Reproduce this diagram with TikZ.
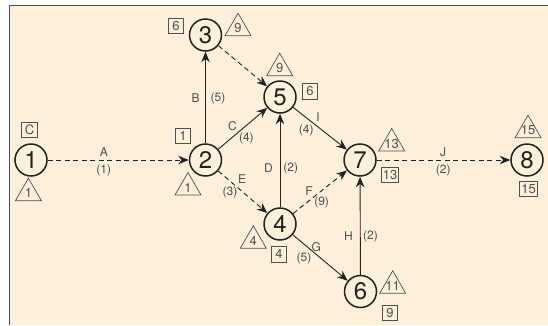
\documentclass[tikz,border=0pt]{standalone}
\usepackage{fontspec}
\setmainfont{TeX Gyre Heros}
\usetikzlibrary{arrows.meta}
\definecolor{paper}{HTML}{FEF0DA}
\definecolor{ink}{HTML}{222222}
\definecolor{soft}{HTML}{505050}
\tikzset{
  event/.style={circle, draw=ink, line width=1.5pt, minimum size=32pt, inner sep=0pt,
    font=\fontsize{24}{24}\selectfont, text=ink},
  act/.style={draw=ink, line width=0.9pt, -{Stealth[length=10.5pt,width=8.5pt]}},
  actdash/.style={act, dash pattern=on 5pt off 3.5pt},
  lbl/.style={font=\fontsize{12}{12}\selectfont, text=soft, inner sep=0pt},
  tag/.style={draw=soft, line width=0.7pt, minimum height=15.5pt, minimum width=15.5pt,
    inner sep=1.5pt, font=\fontsize{13}{13}\selectfont, text=soft},
  pics/tri/.style={code={
    \draw[soft, line width=0.7pt] (-13,0) -- (0,-22.5) -- (13,0) -- cycle;
    \node[lbl, font=\fontsize{13}{13}\selectfont] at (0,-7.5) {#1};
  }}
}
\begin{document}
\begin{tikzpicture}[x=1pt, y=-1pt]
\useasboundingbox (0,0) rectangle (548,325);
% sheet with its left and top rules
\fill[white] (0,0) rectangle (548,325);
\fill[paper] (9.7,5.7) rectangle (548,325);
\draw[ink!80, line width=1.3pt] (9.7,325) -- (9.7,5.7) -- (548,5.7);

% events
\node[event] (n1) at (31,160) {1};
\node[event] (n2) at (205.5,160) {2};
\node[event] (n3) at (205.5,35) {3};
\node[event] (n5) at (280,97) {5};
\node[event] (n4) at (280,224) {4};
\node[event] (n7) at (360,160) {7};
\node[event] (n6) at (360.5,291.5) {6};
\node[event] (n8) at (527,160) {8};

% activities
\draw[actdash] (n1) -- (n2);
\draw[act] (n2) -- (n3);
\draw[act] (n2) -- (n5);
\draw[actdash] (n2) -- (n4);
\draw[actdash] (n3) -- (n5);
\draw[act] (n4) -- (n5);
\draw[act] (n5) -- (n7);
\draw[actdash] (n4) -- (n7);
\draw[act] (n4) -- (n6);
\draw[act] (n6) -- (n7);
\draw[actdash] (n7) -- (n8);

% activity names and durations
\node[lbl] (lA) at (103.8,152) {A};   \node[lbl] (dA) at (103.8,170) {(1)};
\node[lbl] (lB) at (195.7,98) {B};    \node[lbl] (dB) at (218,98) {(5)};
\node[lbl] (lC) at (232.4,126) {C};   \node[lbl] (dC) at (246.4,138) {(4)};
\node[lbl] (lE) at (242.2,179) {E};   \node[lbl] (dE) at (230,192) {(3)};
\node[lbl] (lD) at (268.4,168) {D};   \node[lbl] (dD) at (290.8,168) {(2)};
\node[lbl] (lI) at (318,117) {I};     \node[lbl] (dI) at (306.2,130) {(4)};
\node[lbl] (lF) at (309,191) {F};     \node[lbl] (dF) at (321.6,202) {(9)};
\node[lbl] (lG) at (316.3,247) {G};   \node[lbl] (dG) at (304,258) {(5)};
\node[lbl] (lH) at (348.5,236) {H};   \node[lbl] (dH) at (370.5,236) {(2)};
\node[lbl] (lJ) at (443.2,152) {J};   \node[lbl] (dJ) at (443.2,170) {(2)};

% boxed values
\node[tag] (b1) at (29.5,129.7) {C};
\node[tag] (b2) at (183,136) {1};
\node[tag] (b3) at (176,26) {6};
\node[tag] (b5) at (310,91.3) {6};
\node[tag] (b7) at (390,175) {13};
\node[tag] (b8) at (528.5,189) {15};
\node[tag] (b4) at (279,254.3) {4};
\node[tag] (b6) at (390,312.7) {9};

% triangle values (base centre)
\pic at (28.4,200.7) {tri=1};
\pic at (188,195) {tri=1};
\pic at (238,35.7) {tri=9};
\pic at (279.7,75.7) {tri=9};
\pic at (391.7,151) {tri=13};
\pic at (528,137.7) {tri=15};
\pic at (253.3,248.3) {tri=4};
\pic at (392.7,293.3) {tri=11};
\end{tikzpicture}
\end{document}
